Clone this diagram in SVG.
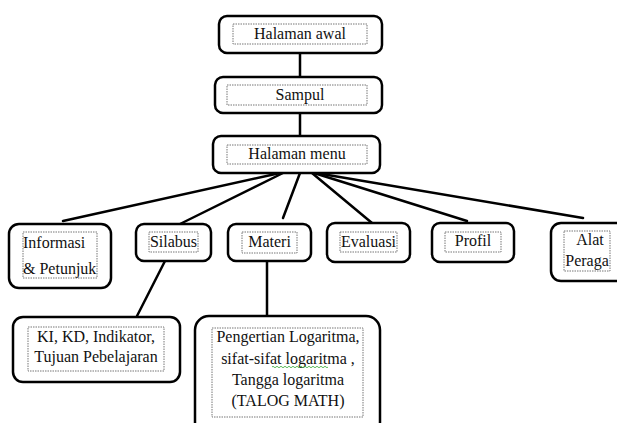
<svg xmlns="http://www.w3.org/2000/svg" width="617" height="423" viewBox="0 0 617 423">
<style>
.box{fill:#fff;stroke:#000;stroke-width:2.5}
.in{fill:none;stroke:#777;stroke-width:1;stroke-dasharray:1.5 1}
.t{font-family:"Liberation Serif","Times New Roman",serif;font-size:16px;fill:#111}
.c{text-anchor:middle}
.ln{stroke:#000;stroke-width:2.5;fill:none;stroke-linecap:round}
</style>
<g id="connectors">
<line class="ln" x1="300" y1="53" x2="300" y2="77"/>
<line class="ln" x1="300" y1="113" x2="300" y2="136"/>
<line class="ln" x1="280" y1="173" x2="63" y2="221"/>
<line class="ln" x1="283" y1="173" x2="180" y2="224"/>
<line class="ln" x1="300" y1="173" x2="283" y2="218"/>
<line class="ln" x1="312" y1="173" x2="372" y2="223"/>
<line class="ln" x1="314" y1="173" x2="467" y2="221"/>
<line class="ln" x1="316" y1="173" x2="583" y2="218"/>
<line class="ln" x1="165" y1="261" x2="137" y2="316"/>
<line class="ln" x1="267" y1="261" x2="267" y2="315"/>
</g>
<g id="halaman-awal">
<rect class="box" x="219" y="16" width="163" height="37" rx="8"/>
<rect class="in" x="233" y="24" width="134" height="20"/>
<text class="t c" x="300" y="39">Halaman awal</text>
</g>
<g id="sampul">
<rect class="box" x="215" y="77" width="167" height="36" rx="8"/>
<rect class="in" x="227" y="85" width="140" height="20"/>
<text class="t c" x="300" y="100">Sampul</text>
</g>
<g id="halaman-menu">
<rect class="box" x="213" y="136" width="167" height="37" rx="8"/>
<rect class="in" x="227" y="145" width="140" height="19"/>
<text class="t c" x="297" y="159">Halaman menu</text>
</g>
<g id="informasi">
<rect class="box" x="9" y="224" width="102" height="64" rx="10"/>
<rect class="in" x="23" y="232" width="74" height="46"/>
<text class="t" x="23" y="248">Informasi</text>
<text class="t" x="23" y="274">&amp; Petunjuk</text>
</g>
<g id="silabus">
<rect class="box" x="136" y="224" width="75" height="37" rx="8"/>
<rect class="in" x="149" y="232" width="49" height="20"/>
<text class="t c" x="173.5" y="247">Silabus</text>
</g>
<g id="materi">
<rect class="box" x="228" y="224" width="83" height="37" rx="8"/>
<rect class="in" x="242" y="232" width="55" height="21"/>
<text class="t c" x="269.5" y="247">Materi</text>
</g>
<g id="evaluasi">
<rect class="box" x="327" y="223" width="83" height="39" rx="8"/>
<rect class="in" x="340" y="232" width="57" height="20"/>
<text class="t c" x="368.5" y="247">Evaluasi</text>
</g>
<g id="profil">
<rect class="box" x="432" y="223" width="82" height="39" rx="8"/>
<rect class="in" x="445" y="232" width="56" height="20"/>
<text class="t c" x="473" y="246">Profil</text>
</g>
<g id="alat-peraga">
<rect class="box" x="551" y="223" width="80" height="58" rx="10"/>
<rect class="in" x="564" y="231" width="46" height="40"/>
<text class="t c" x="590" y="245">Alat</text>
<text class="t c" x="587" y="266">Peraga</text>
</g>
<g id="ki-kd">
<rect class="box" x="13" y="317" width="167" height="65" rx="10"/>
<rect class="in" x="28" y="327" width="136" height="44"/>
<text class="t c" x="96" y="342">KI, KD, Indikator,</text>
<text class="t c" x="96" y="362">Tujuan Pebelajaran</text>
</g>
<g id="pengertian">
<rect class="box" x="195" y="316" width="185" height="120" rx="14"/>
<rect class="in" x="212" y="328" width="151" height="89"/>
<text class="t c" x="288" y="342">Pengertian Logaritma,</text>
<text class="t c" x="288" y="364">sifat-sifat logaritma ,</text>
<path d="M272 367 q1 -1.5 2 0 t2 0 t2 0 t2 0 t2 0 t2 0 t2 0 t2 0 t2 0 t2 0 t2 0 t2 0 t2 0 t2 0 t2 0 t2 0 t2 0 t2 0 t2 0 t2 0 t2 0 t2 0 t2 0 t2 0 t2 0 t2 0 t2 0 t2 0" fill="none" stroke="#3a3" stroke-width="0.8"/>
<text class="t c" x="288" y="385">Tangga logaritma</text>
<text class="t c" x="288" y="406">(TALOG MATH)</text>
</g>
</svg>
